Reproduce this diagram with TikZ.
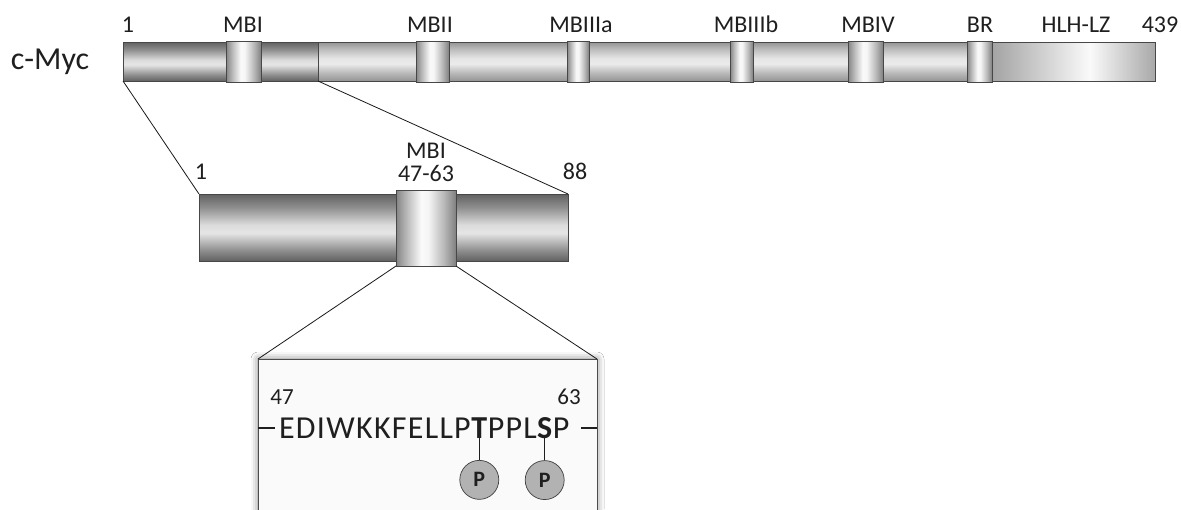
\documentclass[tikz,border=0pt]{standalone}
\usepackage{fontspec}
\setmainfont{Carlito}
\newfontfamily\seqfont[LetterSpace=4]{Carlito}
\usetikzlibrary{shadows.blur}

\pgfdeclareverticalshading{darkbar}{100bp}{color(0bp)=(black!62); color(25bp)=(black!62); color(33bp)=(black!44); color(46bp)=(black!10); color(52bp)=(black!14); color(65bp)=(black!44); color(75bp)=(black!62); color(100bp)=(black!62)}
\pgfdeclareverticalshading{lightbar}{100bp}{color(0bp)=(black!42); color(25bp)=(black!42); color(35bp)=(black!28); color(47bp)=(black!8); color(54bp)=(black!10); color(67bp)=(black!28); color(75bp)=(black!42); color(100bp)=(black!42)}
\pgfdeclarehorizontalshading{segshade}{100bp}{color(0bp)=(black!48); color(25bp)=(black!48); color(35bp)=(black!25); color(46bp)=(black!2); color(52bp)=(black!4); color(65bp)=(black!28); color(75bp)=(black!50); color(100bp)=(black!50)}
\pgfdeclarehorizontalshading{hlhshade}{100bp}{color(0bp)=(black!36); color(25bp)=(black!36); color(55bp)=(black!2); color(75bp)=(black!34); color(100bp)=(black!34)}

\tikzset{
  box/.style={rectangle, inner sep=0pt, outer sep=0pt, anchor=north west, draw=black!72, line width=0.7pt},
  lab/.style={font=\fontsize{24}{28}\selectfont, text=black!88, inner sep=0pt},
  zoomline/.style={draw=black!90, line width=0.8pt},
  seq/.style={font=\seqfont\fontsize{32}{36}\selectfont, text=black!88, inner sep=0pt, outer sep=0pt},
  seqdash/.style={draw=black!88, line width=2.4pt},
  pcircle/.style={circle, draw=black!75, line width=0.7pt, fill=black!30, minimum size=39pt, inner sep=0pt, font=\fontsize{22}{24}\selectfont\bfseries, text=black!88},
  plink/.style={draw=black!88, line width=1.4pt}
}

\begin{document}
\begin{tikzpicture}[x=1pt,y=-1pt]
\clip (0,0) rectangle (1181,509);
\fill[white] (0,0) rectangle (1181,509);

% full protein
\node[font=\fontsize{32}{36}\selectfont, text=black!88, inner sep=0pt] (cmyc) at (50,62) {c-Myc};
\node[box, shading=darkbar, minimum width=195pt, minimum height=39pt] (tdark) at (123,42) {};
\node[box, shading=lightbar, minimum width=649pt, minimum height=39pt] (tlight) at (318,42) {};
\node[box, shading=hlhshade, minimum width=163pt, minimum height=39pt] (thlh) at (992,42) {};
\node[box, shading=segshade, minimum width=35pt, minimum height=41pt] (sMBI) at (226,41) {};
\node[box, shading=segshade, minimum width=33pt, minimum height=41pt] (sMBII) at (416,41) {};
\node[box, shading=segshade, minimum width=22pt, minimum height=41pt] (sMBIIIa) at (567,41) {};
\node[box, shading=segshade, minimum width=23pt, minimum height=41pt] (sMBIIIb) at (730,41) {};
\node[box, shading=segshade, minimum width=35pt, minimum height=41pt] (sMBIV) at (848,41) {};
\node[box, shading=segshade, minimum width=25pt, minimum height=41pt] (sBR) at (967,41) {};

\node[lab] (l1) at (128,24.5) {1};
\node[lab] (lMBI) at (243,24.5) {MBI};
\node[lab] (lMBII) at (430,24.5) {MBII};
\node[lab] (lMBIIIa) at (581,24.5) {MBIIIa};
\node[lab] (lMBIIIb) at (746,24.5) {MBIIIb};
\node[lab] (lMBIV) at (868,24.5) {MBIV};
\node[lab] (lBR) at (980,24.5) {BR};
\node[lab] (lHLH) at (1076,24.5) {HLH-LZ};
\node[lab] (l439) at (1160,24.5) {439};

% N-terminal region
\node[box, shading=darkbar, minimum width=369pt, minimum height=67pt] (mbar) at (199,194) {};
\node[box, shading=segshade, minimum width=60pt, minimum height=76pt] (mMBI) at (396,190) {};
\draw[zoomline] (tdark.south west) -- (mbar.north west);
\draw[zoomline] (tdark.south east) -- (mbar.north east);

\node[lab] (m1) at (201,171.5) {1};
\node[lab] (mMBIlab) at (426,150.5) {MBI};
\node[lab] (m4763) at (426,173) {47-63};
\node[lab] (m88) at (575,171) {88};

% sequence box
\node[box, draw=black!70, fill=black!2, minimum width=339pt, minimum height=180pt,
  blur shadow={shadow xshift=0pt, shadow yshift=0pt, shadow blur radius=7pt, shadow opacity=50}] (sbox) at (258,359) {};
\draw[zoomline] (mMBI.south west) -- (sbox.north west);
\draw[zoomline] (mMBI.south east) -- (sbox.north east);

\node[lab, font=\fontsize{23}{26}\selectfont] (n47) at (282,397) {47};
\node[lab, font=\fontsize{23}{26}\selectfont] (n63) at (569,397) {63};

\coordinate (dl1) at (258,428);
\coordinate (dl2) at (275,428);
\coordinate (dr1) at (581,428);
\coordinate (dr2) at (597,428);
\draw[seqdash] (dl1) -- (dl2);
\draw[seqdash] (dr1) -- (dr2);

\node[seq, anchor=base] (sT) at (479.3,438) {\bfseries T};
\node[seq, anchor=base] (sS) at (544.7,438) {\bfseries S};
\node[seq, anchor=base east] (s1) at ([xshift=-0.6pt]sT.base west) {EDIWKKFELLP};
\node[seq, anchor=base west] (s2) at ([xshift=0.6pt]sT.base east) {PPL};
\node[seq, anchor=base west] (s3) at ([xshift=0.6pt]sS.base east) {P};

\path (sT.south) ++(0,22) node[pcircle, anchor=north] (pT) {P};
\path (sS.south) ++(0,22) node[pcircle, anchor=north] (pS) {P};
\draw[plink] (sT.south) -- (pT.north);
\draw[plink] (sS.south) -- (pS.north);
\end{tikzpicture}
\end{document}
